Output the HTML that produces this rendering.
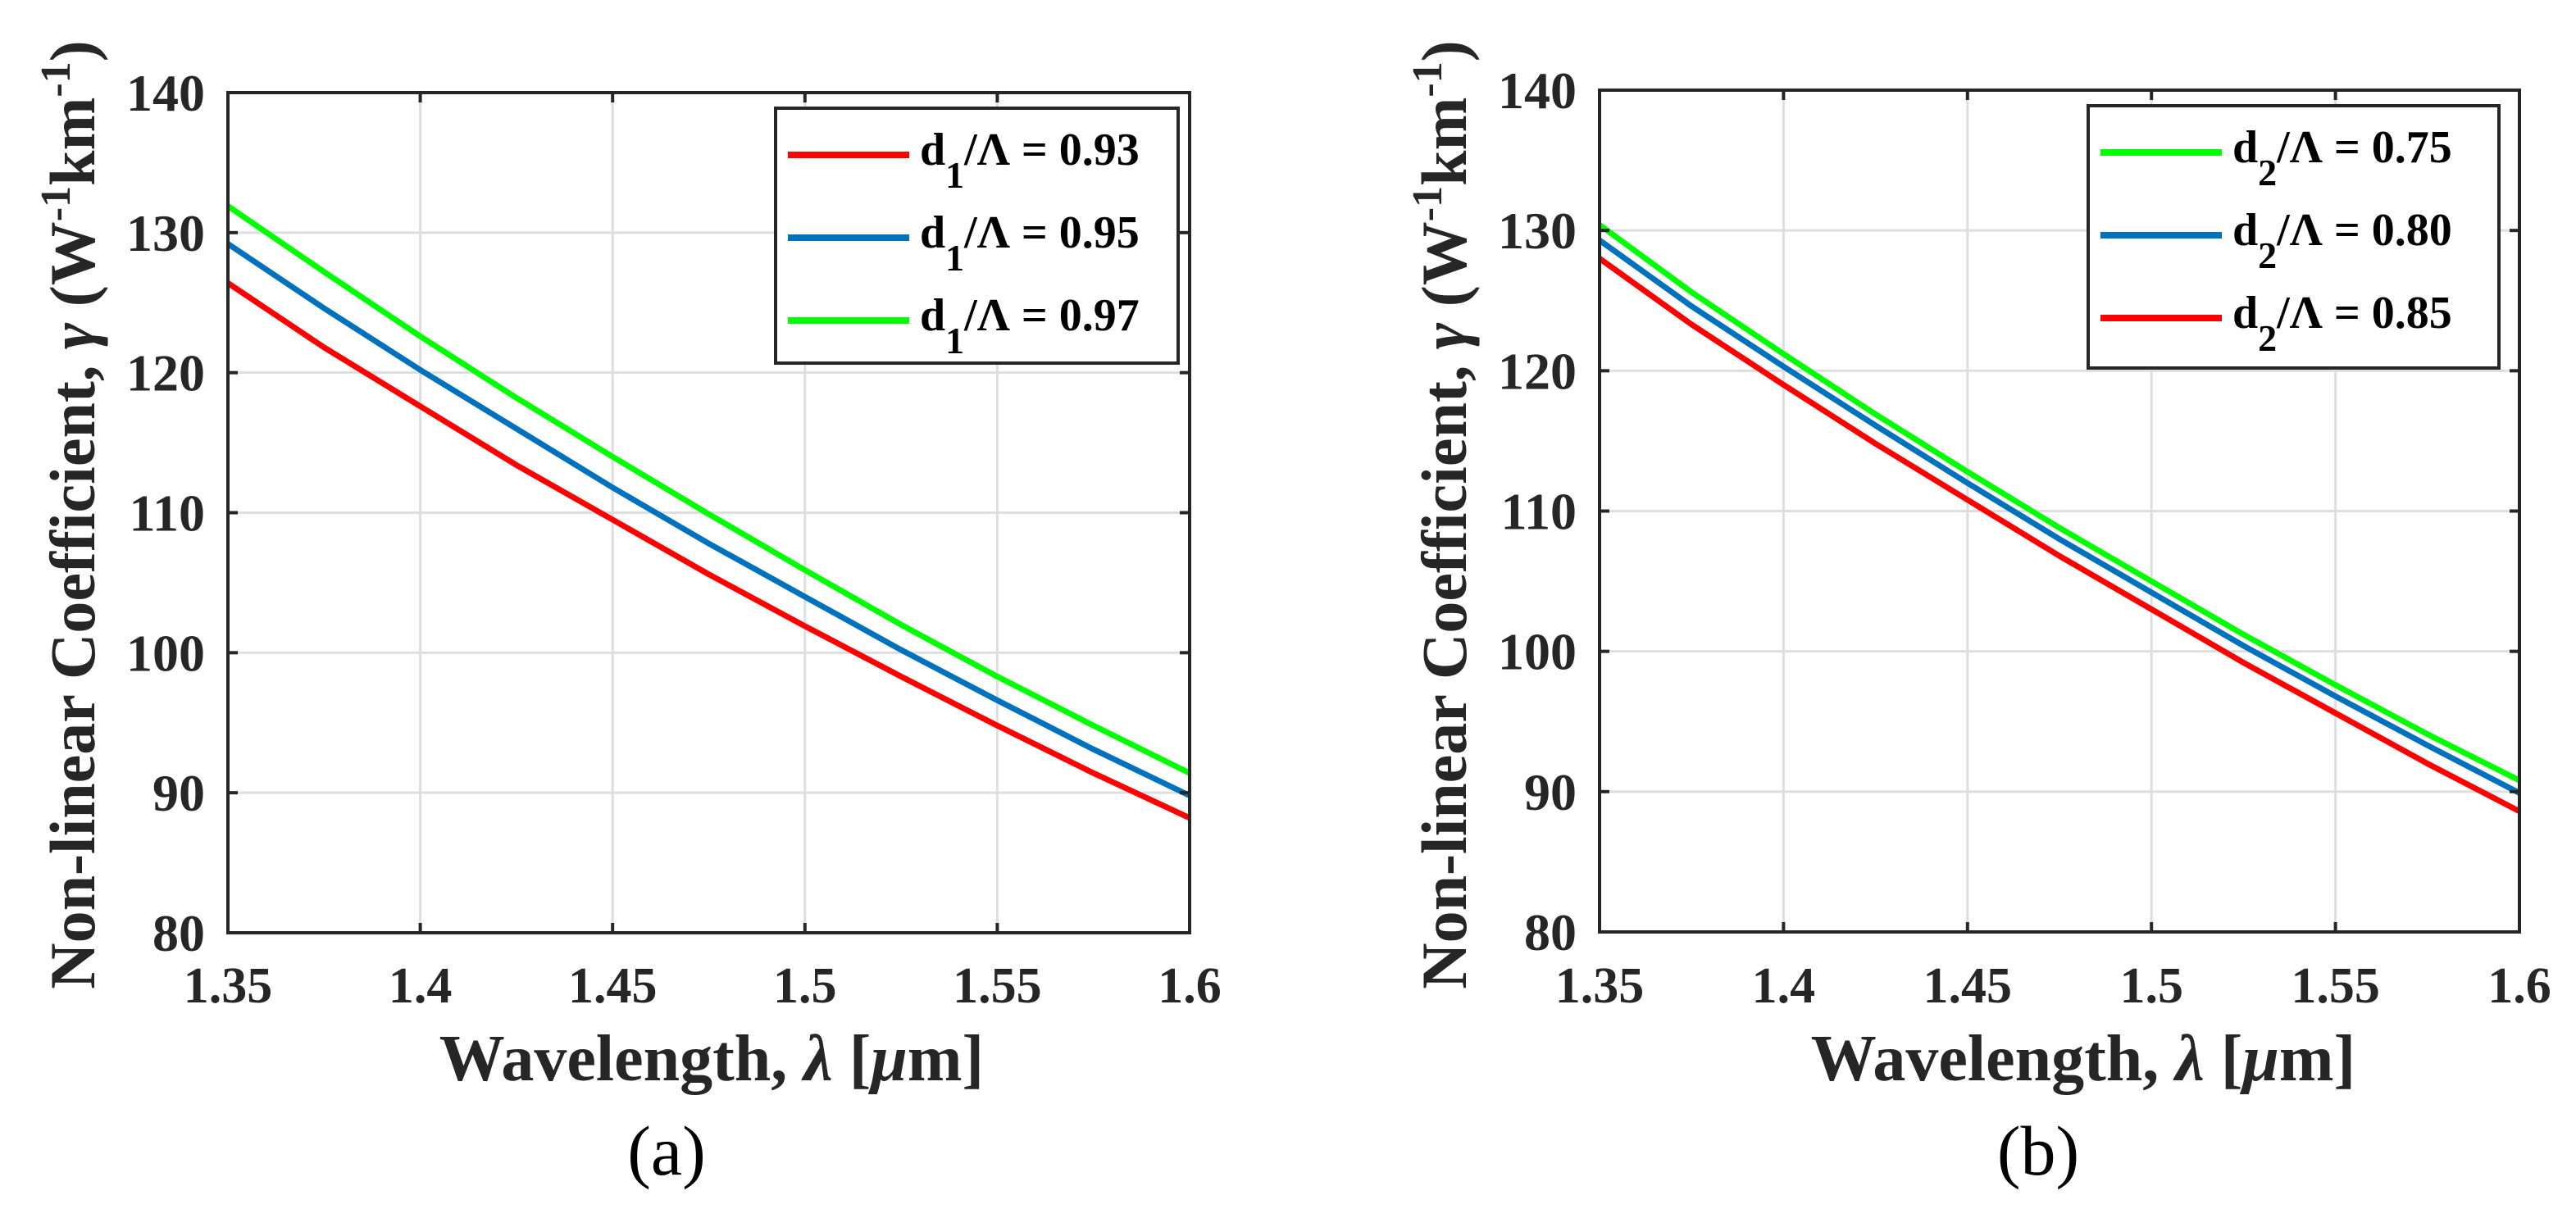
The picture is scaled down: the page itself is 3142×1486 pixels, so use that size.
<!DOCTYPE html>
<html><head><meta charset="utf-8"><style>
html,body{margin:0;padding:0;background:#fff;}
svg{display:block;font-family:"Liberation Serif","Times New Roman",serif;}
text{font-family:"Liberation Serif","Times New Roman",serif;}
</style></head><body>
<svg id="fig" width="3142" height="1486" viewBox="0 0 3142 1486" xmlns="http://www.w3.org/2000/svg" font-family="Liberation Serif, Times New Roman, serif"></svg>
<script>
const xTicks = [1.35, 1.4, 1.45, 1.5, 1.55, 1.6];
const xTickLabels = ["1.35", "1.4", "1.45", "1.5", "1.55", "1.6"];
const yTicks = [80, 90, 100, 110, 120, 130, 140];
const yTickLabels = ["80", "90", "100", "110", "120", "130", "140"];
const wavelengths = [1.35, 1.375, 1.4, 1.425, 1.45, 1.475, 1.5, 1.525, 1.55, 1.575, 1.6];
// panel (a)
const aRed093   = [126.4, 121.8, 117.6, 113.4, 109.5, 105.6, 101.9, 98.3, 94.8, 91.4, 88.2];
const aBlue095  = [129.2, 124.6, 120.2, 116.0, 111.8, 107.8, 104.0, 100.2, 96.6, 93.1, 89.8];
const aGreen097 = [131.9, 127.2, 122.6, 118.2, 114.0, 109.9, 105.9, 102.0, 98.3, 94.8, 91.4];
const aLabels = ["0.93", "0.95", "0.97"];
// panel (b)
const bGreen075 = [130.4, 125.6, 121.2, 116.9, 112.8, 108.8, 105.0, 101.2, 97.6, 94.1, 90.8];
const bBlue080  = [129.3, 124.6, 120.3, 116.1, 112.0, 108.0, 104.2, 100.4, 96.8, 93.3, 89.9];
const bRed085   = [128.0, 123.3, 119.0, 114.8, 110.8, 106.8, 103.0, 99.2, 95.6, 92.0, 88.6];
const bLabels = ["0.75", "0.80", "0.85"];

const NS = "http://www.w3.org/2000/svg";
const FONT = '"Liberation Serif", "Times New Roman", serif';
const svg = document.getElementById("fig");
function mk(tag, attrs, parent) {
  const e = document.createElementNS(NS, tag);
  for (const k in attrs) e.setAttribute(k, attrs[k]);
  if (tag === "text") e.style.fontFamily = FONT;
  (parent || svg).appendChild(e);
  return e;
}

function panel(cfg) {
  const g = mk("g", {});
  
  
  const L = cfg.left, R = cfg.right, T = cfg.top, B = cfg.bottom;
  const xs = v => L + (v - 1.35) / (1.6 - 1.35) * (R - L);
  const ys = v => B - (v - 80) / (140 - 80) * (B - T);
  xTicks.forEach((t, i) => {
    if (i === 0 || i === xTicks.length - 1) return;
    const l = mk("line", {x1: xs(t), x2: xs(t), y1: T, y2: B, stroke: "#dedede", "stroke-width": 3}, g);
    
    
  });
  yTicks.forEach((t, i) => {
    if (i === 0 || i === yTicks.length - 1) return;
    const l = mk("line", {x1: L, x2: R, y1: ys(t), y2: ys(t), stroke: "#dedede", "stroke-width": 3}, g);
    
    
  });
  cfg.series.forEach(s => {
    const d = wavelengths.map((w, i) => (i ? "L" : "M") + xs(w).toFixed(1) + "," + ys(s.values[i]).toFixed(1)).join(" ");
    const p = mk("path", {d: d, fill: "none", stroke: s.color, "stroke-width": 7, "stroke-linejoin": "round"}, g);
    
    
  });
  const box = mk("rect", {x: L, y: T, width: R - L, height: B - T, fill: "none", stroke: "#262626", "stroke-width": 4}, g);
  
  
  xTicks.forEach((t, i) => {
    mk("line", {x1: xs(t), x2: xs(t), y1: B, y2: B - 12, stroke: "#262626", "stroke-width": 4}, g);
    mk("line", {x1: xs(t), x2: xs(t), y1: T, y2: T + 12, stroke: "#262626", "stroke-width": 4}, g);
    const tx = mk("text", {x: xs(t), y: 1223, "text-anchor": "middle", "font-size": 62, "font-weight": "bold", fill: "#262626"}, g);
    tx.textContent = xTickLabels[i];
    
    
  });
  yTicks.forEach((t, i) => {
    mk("line", {x1: L, x2: L + 12, y1: ys(t), y2: ys(t), stroke: "#262626", "stroke-width": 4}, g);
    mk("line", {x1: R, x2: R - 12, y1: ys(t), y2: ys(t), stroke: "#262626", "stroke-width": 4}, g);
    const tx = mk("text", {x: L - 28, y: ys(t) + 22, "text-anchor": "end", "font-size": 64, "font-weight": "bold", fill: "#262626"}, g);
    tx.textContent = yTickLabels[i];
    
    
  });
  const xl = mk("text", {x: cfg.xlabelX, y: 1318, "text-anchor": "middle", "font-size": 80, "font-weight": "bold", fill: "#262626"}, g);
  xl.innerHTML = 'Wavelength, <tspan font-style="italic">λ</tspan> [<tspan font-style="italic">μ</tspan>m]';
  
  
  const yl = mk("text", {x: 0, y: 0, "text-anchor": "middle", "font-size": 78, "font-weight": "bold", fill: "#262626",
    transform: "translate(" + cfg.ylabelX + ",628) rotate(-90)"}, g);
  yl.innerHTML = 'Non-linear Coefficient, <tspan font-style="italic">γ</tspan> (W<tspan font-size="52" dy="-30">-1</tspan><tspan dy="30">km</tspan><tspan font-size="52" dy="-30">-1</tspan><tspan dy="30">)</tspan>';
  
  
  const lg = mk("g", {}, g);
  
  
  mk("rect", {x: cfg.leg.x, y: cfg.leg.y, width: cfg.leg.w, height: cfg.leg.h, fill: "#fff", stroke: "#262626", "stroke-width": 4}, lg);
  cfg.legend.forEach((e, i) => {
    const ly = cfg.leg.y + 57 + i * 101;
    const ent = mk("g", {}, lg);
    
    
    mk("line", {x1: cfg.leg.x + 15, x2: cfg.leg.x + 163, y1: ly, y2: ly, stroke: e.color, "stroke-width": 8}, ent);
    const t = mk("text", {x: cfg.leg.x + 176, y: ly + 12, "font-size": 56, "font-weight": "bold", fill: "#000"}, ent);
    t.innerHTML = 'd<tspan font-size="46" dy="28">' + cfg.sub + '</tspan><tspan dy="-28">/Λ = ' + e.label + '</tspan>';
  });
  const cap = mk("text", {x: cfg.capX, y: 1433, "text-anchor": "middle", "font-size": 86, fill: "#000"}, g);
  cap.textContent = cfg.caption;
  
  
}

panel({name: "panel-a", left: 278, right: 1451, top: 113, bottom: 1138, xlabelX: 868, ylabelX: 115, capX: 813, caption: "(a)", sub: "1",
  leg: {x: 946, y: 132, w: 491, h: 311},
  series: [
    {name: "line-d1-093", color: "#ff0000", values: aRed093},
    {name: "line-d1-095", color: "#0072bd", values: aBlue095},
    {name: "line-d1-097", color: "#00ff00", values: aGreen097}],
  legend: [{color: "#ff0000", label: aLabels[0]}, {color: "#0072bd", label: aLabels[1]}, {color: "#00ff00", label: aLabels[2]}]
});
panel({name: "panel-b", left: 1951, right: 3073, top: 110, bottom: 1137, xlabelX: 2541, ylabelX: 1788, capX: 2486, caption: "(b)", sub: "2",
  leg: {x: 2547, y: 129, w: 501, h: 320},
  series: [
    {name: "line-d2-075", color: "#00ff00", values: bGreen075},
    {name: "line-d2-080", color: "#0072bd", values: bBlue080},
    {name: "line-d2-085", color: "#ff0000", values: bRed085}],
  legend: [{color: "#00ff00", label: bLabels[0]}, {color: "#0072bd", label: bLabels[1]}, {color: "#ff0000", label: bLabels[2]}]
});
</script>
</body></html>
